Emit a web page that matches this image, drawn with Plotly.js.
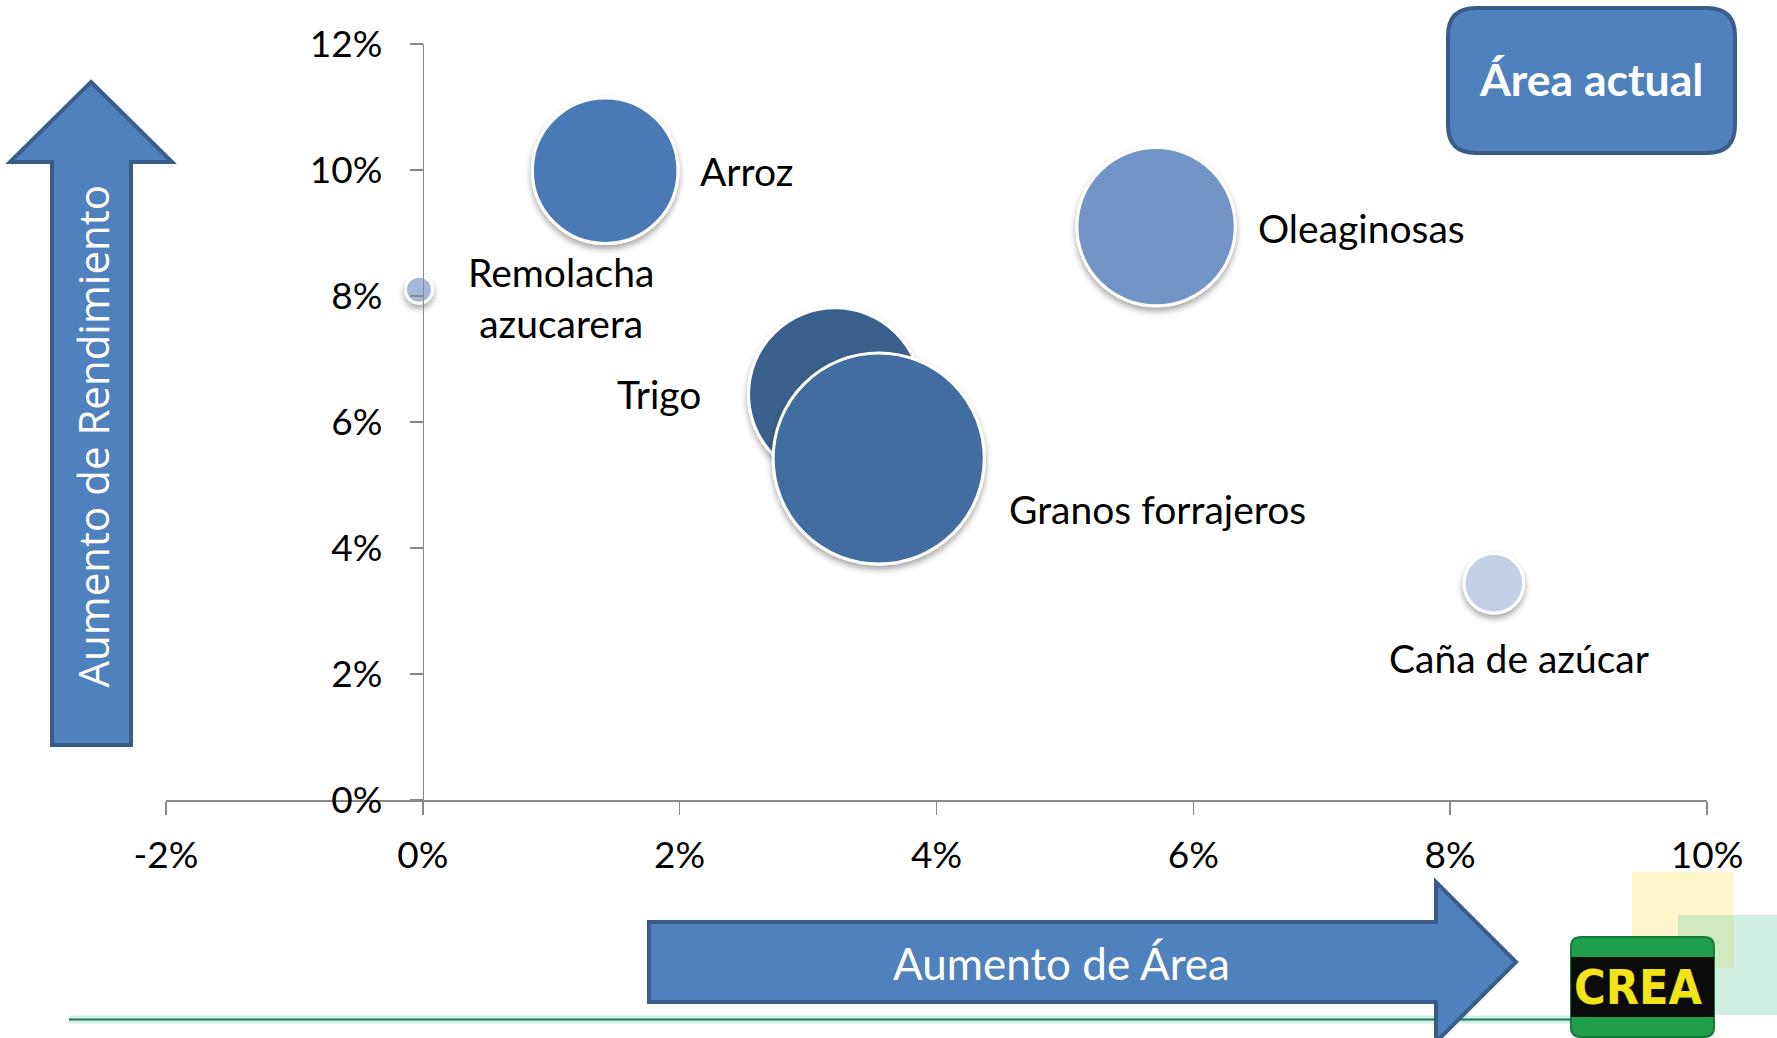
<!DOCTYPE html>
<html><head><meta charset="utf-8">
<script src="https://cdn.plot.ly/plotly-3.0.1.min.js"></script>
<style>html,body{margin:0;padding:0;background:#fff;overflow:hidden}#chart{width:1777px;height:1038px}</style>
</head><body>
<svg width="0" height="0" style="position:absolute"><defs>
<filter id="bshadow" x="-30%" y="-30%" width="160%" height="170%"><feDropShadow dx="0" dy="4" stdDeviation="3" flood-color="#000" flood-opacity="0.35"/></filter>
</defs></svg>
<div id="chart"></div>
<script>
// ---- data ----
const crops = ['Remolacha azucarera', 'Arroz', 'Trigo', 'Granos forrajeros', 'Oleaginosas', 'Caña de azúcar'];
const labelText = ['Remolacha<br>azucarera', 'Arroz', 'Trigo', 'Granos forrajeros', 'Oleaginosas', 'Caña de azúcar'];
const areaGrowth = [-0.0003, 0.0142, 0.0321, 0.0355, 0.0571, 0.0834];   // Aumento de Área
const yieldGrowth = [0.0810, 0.0999, 0.0644, 0.0542, 0.0910, 0.0344];   // Aumento de Rendimiento
const currentArea = [5.2, 152, 215, 320, 180, 25.5];                      // Área actual (bubble size)
const xRange = [-0.02, 0.10];
const yRange = [0, 0.12];
const tickStep = 0.02;

// ---- styles ----
const bubbleColors = ['#A3B8DA', '#4A7AB5', '#3B5F8C', '#436DA0', '#7394C6', '#C3CFE5'];
const labelPos = [
  {xanchor: 'center', xshift: 142, yshift: -8},
  {xanchor: 'left', xshift: 93, yshift: 0},
  {xanchor: 'right', xshift: -132, yshift: 0},
  {xanchor: 'left', xshift: 128, yshift: -50},
  {xanchor: 'left', xshift: 100, yshift: -1},
  {xanchor: 'center', xshift: 25, yshift: -75}
];
const W = 1777, H = 1038;
const M = {l: 166, r: 70, t: 44, b: 238};
const PW = W - M.l - M.r, PH = H - M.t - M.b;
const X = px => (px - M.l) / PW;
const Y = py => (M.t + PH - py) / PH;
const path = pts => pts.map((p, i) => (i ? 'L' : 'M') + X(p[0]) + ',' + Y(p[1])).join(' ') + ' Z';
function rrect(x0, y0, x1, y1, r) {
  const P = (a, b) => X(a) + ',' + Y(b);
  return 'M' + P(x0 + r, y0) + ' L' + P(x1 - r, y0) + ' Q' + P(x1, y0) + ' ' + P(x1, y0 + r) +
    ' L' + P(x1, y1 - r) + ' Q' + P(x1, y1) + ' ' + P(x1 - r, y1) +
    ' L' + P(x0 + r, y1) + ' Q' + P(x0, y1) + ' ' + P(x0, y1 - r) +
    ' L' + P(x0, y0 + r) + ' Q' + P(x0, y0) + ' ' + P(x0 + r, y0) + ' Z';
}
const FILL = '#4F81BD', EDGE = '#385D8A';

const trace = {
  type: 'scatter', mode: 'markers',
  x: areaGrowth, y: yieldGrowth, text: crops,
  marker: {
    size: currentArea, sizemode: 'area', sizeref: 0.01436,
    color: bubbleColors, opacity: 1,
    line: {color: '#ffffff', width: 3}
  },
  hoverinfo: 'skip', cliponaxis: false
};

const xticks = [];
for (let v = xRange[0]; v <= xRange[1] + 1e-9; v += tickStep) xticks.push(Math.round(v * 100) / 100);
const yticks = [];
for (let v = yRange[0]; v <= yRange[1] + 1e-9; v += tickStep) yticks.push(Math.round(v * 100) / 100);
const pct = v => Math.round(v * 100) + '%';

const tickFont = {family: 'Lato, sans-serif', size: 37, color: '#000'};
const labelFont = {family: 'Lato, sans-serif', size: 39, color: '#000'};

const annotations = crops.map((c, i) => Object.assign({
  x: areaGrowth[i], y: yieldGrowth[i], xref: 'x', yref: 'y',
  text: labelText[i], showarrow: false, yanchor: 'middle', align: 'center',
  font: labelFont
}, labelPos[i]));

annotations.push(
  {xref: 'paper', yref: 'paper', x: X(91.5), y: Y(436), text: 'Aumento de Rendimiento', textangle: -90,
   showarrow: false, xanchor: 'center', yanchor: 'middle',
   font: {family: '"Open Sans", sans-serif', size: 42, color: '#fff'}},
  {xref: 'paper', yref: 'paper', x: X(1061), y: Y(963), text: 'Aumento de Área',
   showarrow: false, xanchor: 'center', yanchor: 'middle',
   font: {family: 'Lato, sans-serif', size: 44, color: '#fff'}},
  {xref: 'paper', yref: 'paper', x: X(1591), y: Y(79), text: '<b>Área actual</b>',
   showarrow: false, xanchor: 'center', yanchor: 'middle',
   font: {family: 'Lato, sans-serif', size: 44.5, color: '#fff'}},
  {xref: 'paper', yref: 'paper', x: X(1638), y: Y(987), text: '<b>CREA</b>',
   showarrow: false, xanchor: 'center', yanchor: 'middle',
   font: {family: '"DejaVu Sans Condensed", "DejaVu Sans", sans-serif', size: 48, color: '#F3E41A'}}
);

const shapes = [
  {type: 'path', xref: 'paper', yref: 'paper', path: path([[1632,872],[1734,872],[1734,968],[1632,968]]),
   fillcolor: 'rgba(255,236,140,0.45)', line: {width: 0}, layer: 'below'},
  {type: 'path', xref: 'paper', yref: 'paper', path: path([[1678,915],[1777,915],[1777,1015],[1678,1015]]),
   fillcolor: 'rgba(120,210,175,0.35)', line: {width: 0}, layer: 'below'},
  {type: 'line', xref: 'paper', yref: 'paper', x0: X(69), x1: X(1575), y0: Y(1019.5), y1: Y(1019.5),
   line: {color: 'rgba(140,225,200,0.45)', width: 8}},
  {type: 'line', xref: 'paper', yref: 'paper', x0: X(69), x1: X(1575), y0: Y(1019.5), y1: Y(1019.5),
   line: {color: '#2F6E55', width: 2}},
  {type: 'path', xref: 'paper', yref: 'paper',
   path: path([[91,82],[172,162],[131,162],[131,745],[52,745],[52,162],[10,162]]),
   fillcolor: FILL, line: {color: EDGE, width: 4}},
  {type: 'path', xref: 'paper', yref: 'paper',
   path: path([[649,922],[1436,922],[1436,882],[1516,962],[1436,1042],[1436,1002],[649,1002]]),
   fillcolor: FILL, line: {color: EDGE, width: 4}},
  {type: 'path', xref: 'paper', yref: 'paper', path: rrect(1448, 8, 1735, 153, 28),
   fillcolor: FILL, line: {color: EDGE, width: 4}},
  {type: 'path', xref: 'paper', yref: 'paper', path: rrect(1571, 937, 1714, 1037, 10),
   fillcolor: '#1F9E4C', line: {color: '#157A38', width: 2}},
  {type: 'path', xref: 'paper', yref: 'paper', path: path([[1571,957],[1714,957],[1714,1017],[1571,1017]]),
   fillcolor: '#0B0B0B', line: {width: 0}}
];

const layout = {
  width: W, height: H, margin: M,
  paper_bgcolor: '#fff', plot_bgcolor: 'rgba(0,0,0,0)',
  showlegend: false,
  xaxis: {
    range: xRange, tickvals: xticks, ticktext: xticks.map(pct), showgrid: false, zeroline: false,
    showline: true, linecolor: '#898989', linewidth: 1.5,
    ticks: 'outside', ticklen: 13, tickcolor: '#898989', tickwidth: 1.5,
    tickfont: tickFont, ticklabelstandoff: 9, fixedrange: true
  },
  yaxis: {
    range: yRange, tickvals: yticks, ticktext: yticks.map(pct), showgrid: false, zeroline: false,
    anchor: 'free', position: (0 - xRange[0]) / (xRange[1] - xRange[0]),
    showline: true, linecolor: '#898989', linewidth: 1.5,
    ticks: 'outside', ticklen: 13, tickcolor: '#898989', tickwidth: 1.5,
    tickfont: tickFont, ticklabelstandoff: 20, fixedrange: true
  },
  annotations: annotations,
  shapes: shapes
};

Plotly.newPlot('chart', [trace], layout, {staticPlot: true, displayModeBar: false}).then(() => {
  document.querySelectorAll('.scatterlayer path.point').forEach(p => p.setAttribute('filter', 'url(#bshadow)'));
});
</script>
</body></html>
